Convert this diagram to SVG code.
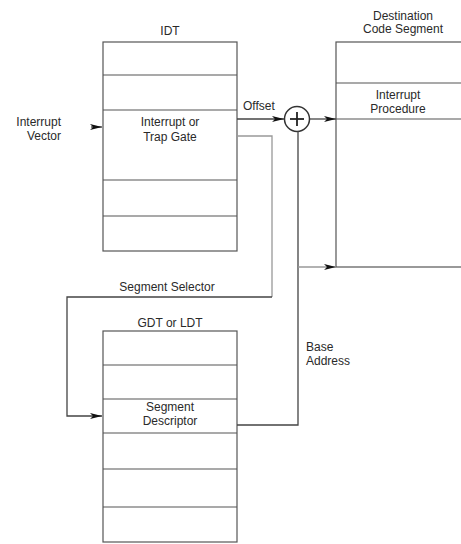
<svg xmlns="http://www.w3.org/2000/svg" width="461" height="544" viewBox="0 0 461 544">
<defs>
<style>
text{font-family:"Liberation Sans",Arial,sans-serif;font-size:12px;fill:#2a2a2a}
.c{text-anchor:middle}
.r{text-anchor:end}
.box{fill:#fff;stroke:#555;stroke-width:1.2}
.row{stroke:#555;stroke-width:1.2}
.ln{fill:none;stroke:#444;stroke-width:1.3}
.lt{fill:none;stroke:#999;stroke-width:1.3}
</style>
<marker id="ah" viewBox="0 0 12 6" refX="12" refY="3" markerWidth="12" markerHeight="6" markerUnits="userSpaceOnUse" orient="auto">
<path d="M0,0 L12,3 L0,6 L3,3 Z" fill="#111"/>
</marker>
</defs>
<rect width="461" height="544" fill="#fff"/>

<g id="idt">
<text class="c" x="170" y="35">IDT</text>
<rect class="box" x="103" y="42" width="134" height="209"/>
<line class="row" x1="103" y1="75" x2="237" y2="75"/>
<line class="row" x1="103" y1="110" x2="237" y2="110"/>
<line class="row" x1="103" y1="180" x2="237" y2="180"/>
<line class="row" x1="103" y1="216" x2="237" y2="216"/>
<text class="c" x="170" y="126">Interrupt or</text>
<text class="c" x="170" y="141">Trap Gate</text>
</g>

<g id="vector">
<text class="r" x="61" y="126">Interrupt</text>
<text class="r" x="61" y="140">Vector</text>
</g>

<g id="dest">
<text class="c" x="403" y="20">Destination</text>
<text class="c" x="403" y="33">Code Segment</text>
<rect class="box" x="336" y="42" width="140" height="225"/>
<line class="row" x1="336" y1="83" x2="476" y2="83"/>
<line class="row" x1="336" y1="119" x2="476" y2="119"/>
<text class="c" x="398" y="99">Interrupt</text>
<text class="c" x="398" y="113">Procedure</text>
</g>

<g id="adder">
<circle cx="297" cy="119" r="12.5" fill="#fff" stroke="#333" stroke-width="1.5"/>
<line x1="290" y1="119" x2="304" y2="119" stroke="#222" stroke-width="1.8"/>
<line x1="297" y1="112" x2="297" y2="126" stroke="#222" stroke-width="1.8"/>
</g>

<g id="gdt">
<text class="c" x="170" y="327">GDT or LDT</text>
<rect class="box" x="103" y="331" width="134" height="211"/>
<line class="row" x1="103" y1="365" x2="237" y2="365"/>
<line class="row" x1="103" y1="399" x2="237" y2="399"/>
<line class="row" x1="103" y1="433" x2="237" y2="433"/>
<line class="row" x1="103" y1="469" x2="237" y2="469"/>
<line class="row" x1="103" y1="507" x2="237" y2="507"/>
<text class="c" x="170" y="411">Segment</text>
<text class="c" x="170" y="425">Descriptor</text>
</g>

<g id="connectors">
<line class="ln" x1="91" y1="127" x2="102" y2="127" marker-end="url(#ah)"/>
<line class="ln" x1="237" y1="119" x2="284" y2="119" marker-end="url(#ah)"/>
<text x="243" y="110">Offset</text>
<line class="ln" x1="310" y1="119" x2="336" y2="119" marker-end="url(#ah)"/>
<polyline class="lt" points="237,136 272,136 272,297"/>
<polyline class="ln" points="272,297 67,297 67,416 102,416" marker-end="url(#ah)"/>
<text class="c" x="167" y="291">Segment Selector</text>
<polyline class="ln" points="237,425 298,425 298,131"/>
<line class="lt" x1="298" y1="267" x2="336" y2="267" marker-end="url(#ah)"/>
<text x="306" y="351">Base</text>
<text x="306" y="365">Address</text>
</g>
</svg>
